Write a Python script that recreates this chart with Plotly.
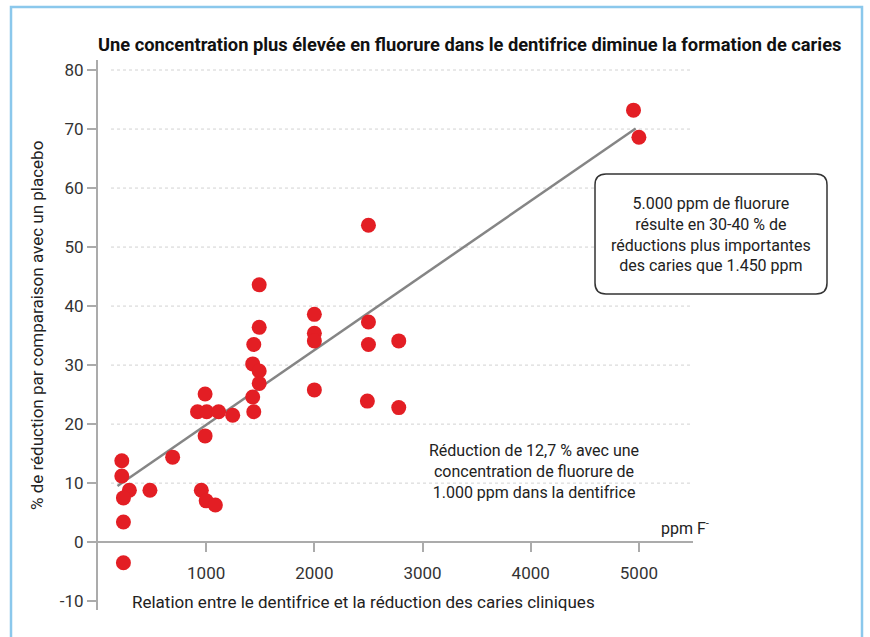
import plotly.graph_objects as go

# ---- data ----
ppm = [4950, 5000, 2500, 1490, 2000, 2500, 1490, 2000, 2000, 2780, 2500, 1440, 1430,
       1490, 1490, 2000, 990, 1430, 2490, 2780, 920, 1005, 1115, 1245, 1440, 990, 690,
       220, 220, 290, 235, 480, 955, 1000, 1085, 235, 235]
reduction = [73.2, 68.6, 53.7, 43.6, 38.6, 37.3, 36.4, 35.4, 34.1, 34.1, 33.5, 33.5, 30.2,
             29.0, 26.9, 25.8, 25.1, 24.6, 23.9, 22.8, 22.1, 22.1, 22.1, 21.5, 22.1, 18.0, 14.4,
             13.8, 11.2, 8.8, 7.5, 8.8, 8.8, 7.0, 6.3, 3.4, -3.5]
trend_x = [180, 4970]
trend_y = [9.5, 70.1]
x_ticks = [1000, 2000, 3000, 4000, 5000]
y_ticks = [-10, 0, 10, 20, 30, 40, 50, 60, 70, 80]
y_tick_labels = ["-10", "0", "10", "20", "30", "40", "50", "60", "70", "80"]
grid_values = [10, 20, 30, 40, 50, 60, 70, 80]

title = "Une concentration plus élevée en fluorure dans le dentifrice diminue la formation de caries"
y_title = "% de réduction par comparaison avec un placebo"
x_caption = "Relation entre le dentifrice et la réduction des caries cliniques"
unit_label = "ppm F<sup>-</sup>"
note_box = "5.000 ppm de fluorure<br>résulte en 30-40 % de<br>réductions plus importantes<br>des caries que 1.450 ppm"
note_text = "Réduction de 12,7 % avec une<br>concentration de fluorure de<br>1.000 ppm dans la dentifrice"

# ---- layout geometry (pixels) ----
W, H = 870, 637
L, R, T, B = 98, 177, 60, 27
PW, PH = W - L - R, H - T - B
Y_RANGE = [-11.5, 81.7]


def fx(p):
    return (p - L) / PW


def fy(p):
    return (H - B - p) / PH


FONT = "Roboto"
RED = "#E31E24"

fig = go.Figure()
fig.add_trace(go.Scatter(x=trend_x, y=trend_y, mode="lines",
                         line=dict(color="#858585", width=2.5), hoverinfo="skip"))
fig.add_trace(go.Scatter(x=ppm, y=reduction, mode="markers",
                         marker=dict(color=RED, size=15, line=dict(width=0))))

x_axis_pos = (0 - Y_RANGE[0]) / (Y_RANGE[1] - Y_RANGE[0])

fig.update_layout(
    width=W, height=H,
    margin=dict(l=L, r=R, t=T, b=B),
    paper_bgcolor="white", plot_bgcolor="white",
    showlegend=False,
    font=dict(family=FONT, color="#222"),
    xaxis=dict(range=[0, 5500], tickvals=x_ticks, showgrid=False, zeroline=False,
               showline=True, linecolor="#ABABAB", linewidth=2,
               anchor="free", position=x_axis_pos,
               ticks="outside", ticklen=9, tickwidth=1.5, tickcolor="#ABABAB",
               tickfont=dict(size=17, color="#333"), ticklabelstandoff=6),
    yaxis=dict(range=Y_RANGE, tickvals=y_ticks, ticktext=y_tick_labels, showgrid=False,
               zeroline=False, showline=True, linecolor="#ABABAB", linewidth=2,
               ticks="outside", ticklen=9, tickwidth=1.5, tickcolor="#ABABAB",
               tickfont=dict(size=17, color="#333")),
)

# dotted gridlines (start slightly right of the y axis, as in the reference)
for g in grid_values:
    fig.add_shape(type="line", xref="paper", yref="y", x0=fx(111), x1=1, y0=g, y1=g,
                  line=dict(color="#D2D2D2", width=1, dash="dot"), layer="below")

# outer blue frame
fig.add_shape(type="rect", xref="paper", yref="paper",
              x0=fx(11), x1=fx(862), y0=fy(660), y1=fy(7),
              line=dict(color="#8BC8EC", width=2.5), fillcolor="rgba(0,0,0,0)", layer="below")

# rounded annotation box
bx0, bx1, by0, by1, r = 595, 827, 174, 294, 11
path = (f"M {fx(bx0 + r)},{fy(by0)} L {fx(bx1 - r)},{fy(by0)} "
        f"Q {fx(bx1)},{fy(by0)} {fx(bx1)},{fy(by0 + r)} "
        f"L {fx(bx1)},{fy(by1 - r)} Q {fx(bx1)},{fy(by1)} {fx(bx1 - r)},{fy(by1)} "
        f"L {fx(bx0 + r)},{fy(by1)} Q {fx(bx0)},{fy(by1)} {fx(bx0)},{fy(by1 - r)} "
        f"L {fx(bx0)},{fy(by0 + r)} Q {fx(bx0)},{fy(by0)} {fx(bx0 + r)},{fy(by0)} Z")
fig.add_shape(type="path", xref="paper", yref="paper", path=path,
              line=dict(color="#333", width=1.5), fillcolor="white")

ann = dict(xref="paper", yref="paper", showarrow=False)
fig.add_annotation(text=f"<b>{title}</b>", x=fx(469), y=fy(45), xanchor="center", yanchor="middle",
                   font=dict(size=18.3, color="#111"), **ann)
fig.add_annotation(text=y_title, x=fx(37), y=fy(326), textangle=-90, xanchor="center",
                   yanchor="middle", font=dict(size=17, color="#222"), **ann)
fig.add_annotation(text=x_caption, x=fx(130), y=fy(602), xanchor="left", yanchor="middle",
                   font=dict(size=17, color="#222"), **ann)
fig.add_annotation(text=unit_label, x=fx(711), y=fy(527), xanchor="right", yanchor="middle",
                   font=dict(size=16, color="#222"), **ann)
fig.add_annotation(text=note_box, x=fx(711), y=fy(234), xanchor="center", yanchor="middle",
                   align="center", font=dict(size=16, color="#222"), **ann)
fig.add_annotation(text=note_text, x=fx(534), y=fy(472), xanchor="center", yanchor="middle",
                   align="center", font=dict(size=16, color="#222"), **ann)

fig.write_html("out.html", config={"displayModeBar": False},
               post_script="document.body.style.margin='0';")
